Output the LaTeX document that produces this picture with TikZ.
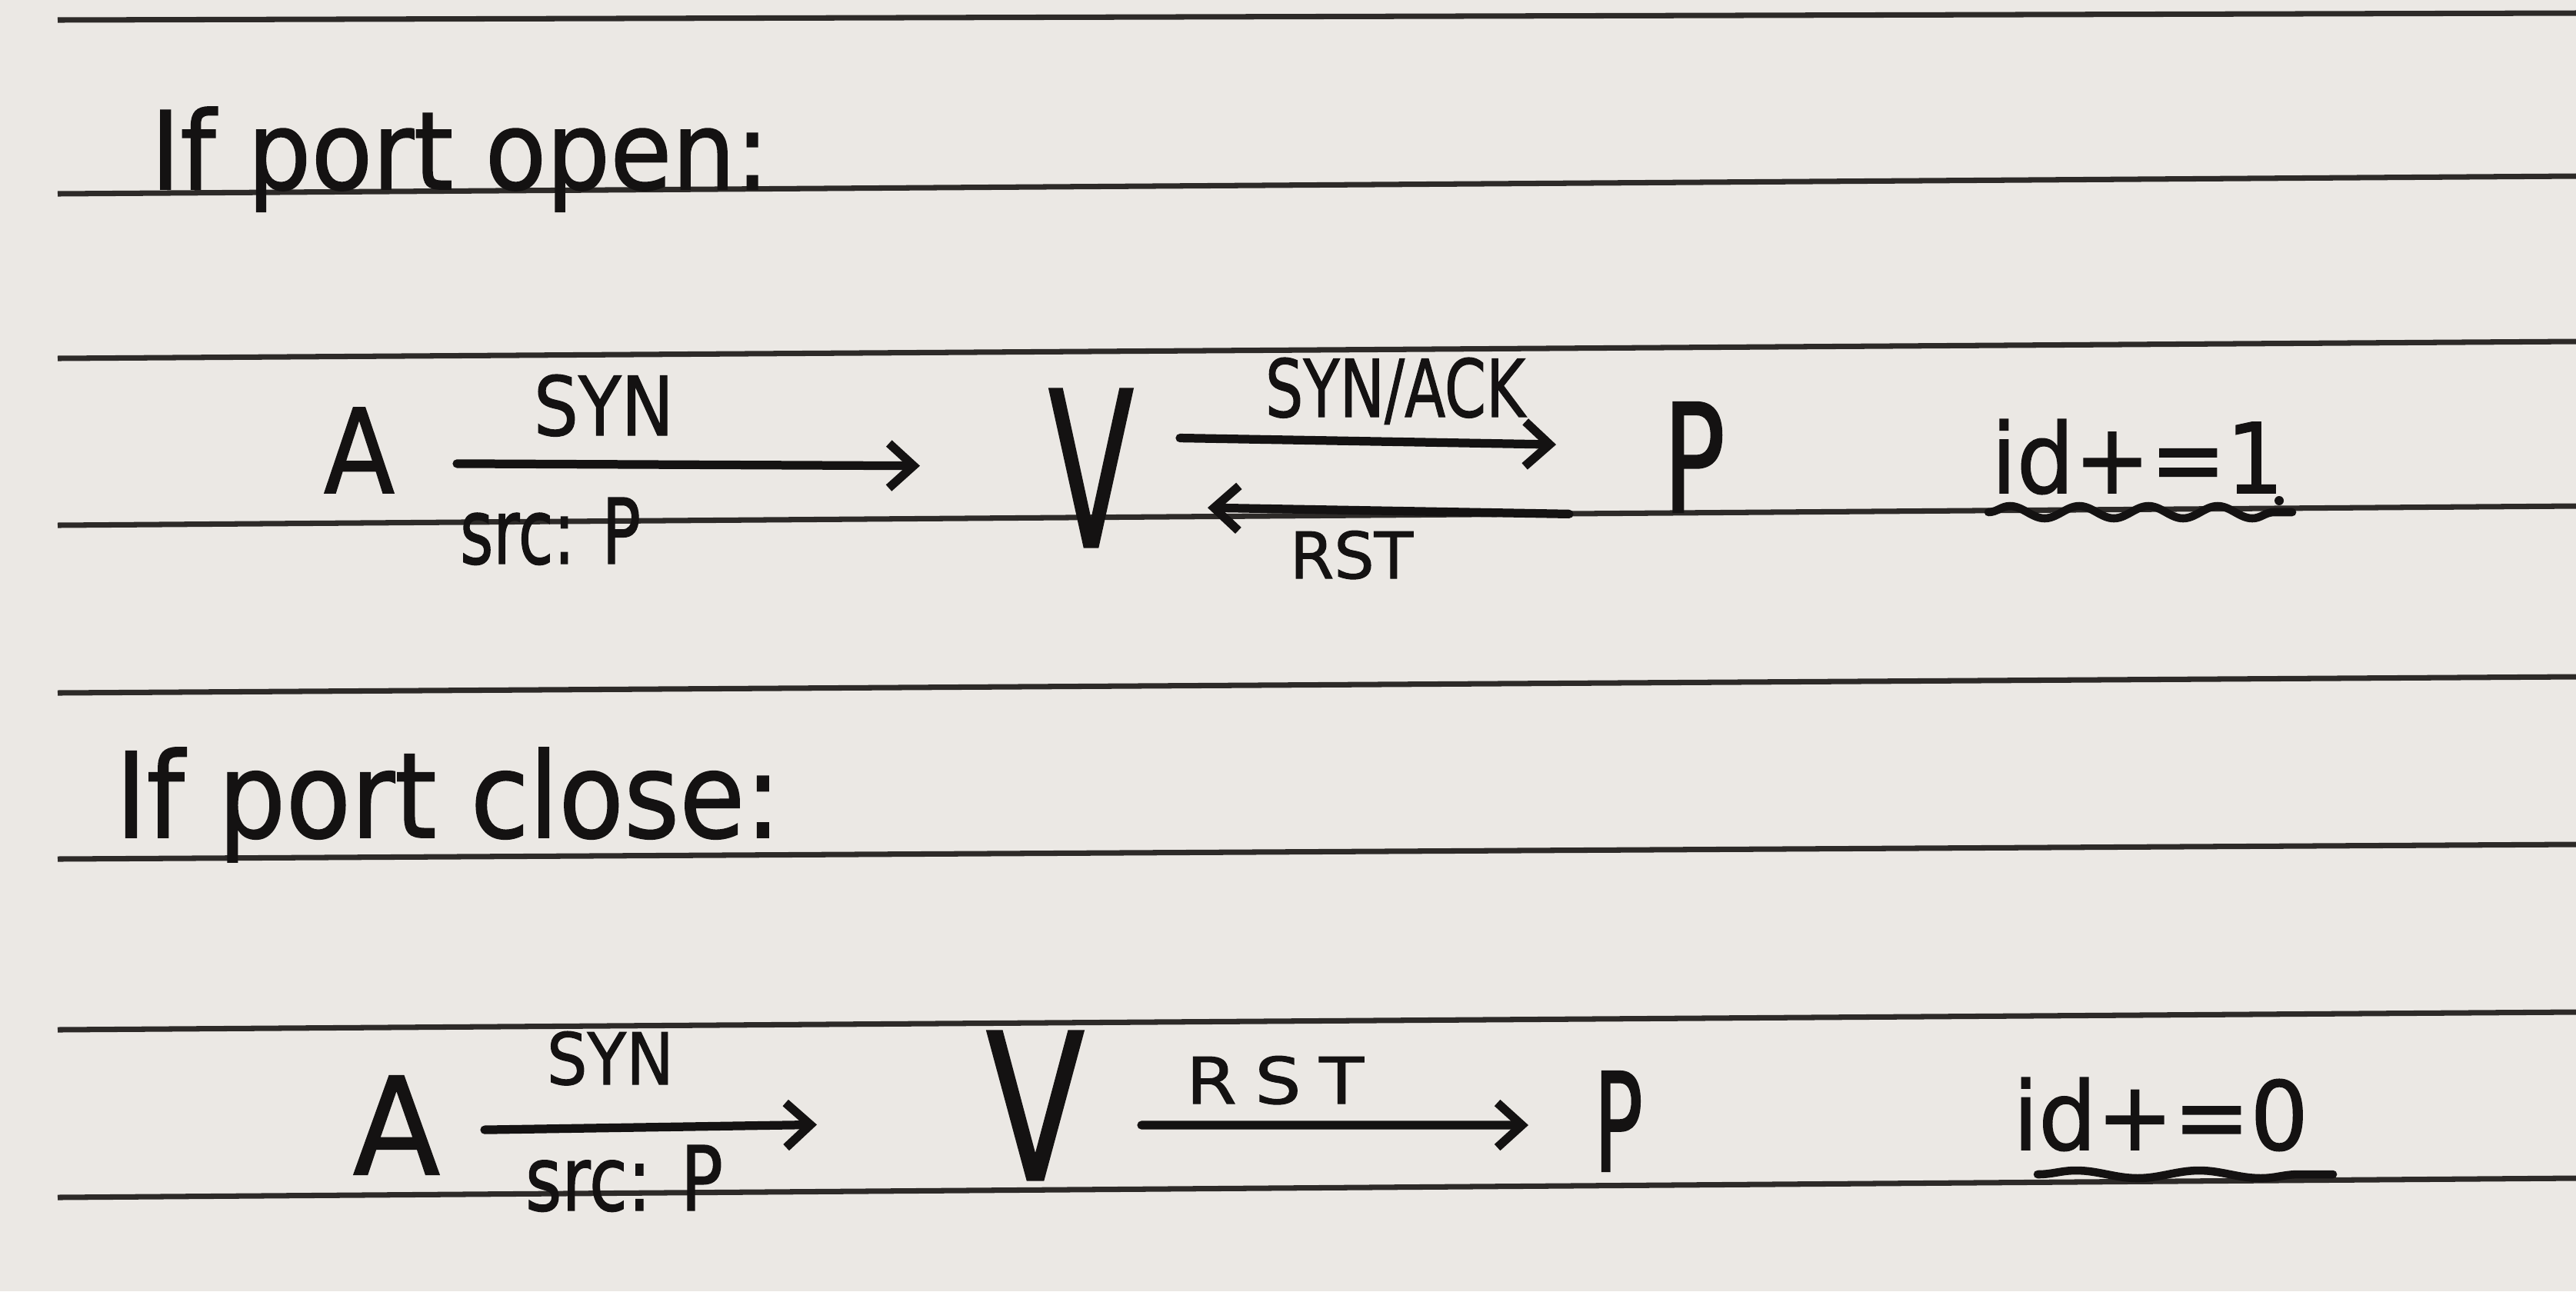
\documentclass[tikz,border=0pt]{standalone}
\usepackage{fontspec}
\setmainfont{DejaVu Sans}[FakeBold=1.2]
\usepackage{graphicx}
\usetikzlibrary{arrows.meta,decorations.pathmorphing}
\definecolor{paper}{RGB}{235,232,228}
\definecolor{ink}{RGB}{20,18,18}
\definecolor{rulecol}{RGB}{45,42,40}
\newcommand{\hw}[3]{\resizebox{#1cm}{#2cm}{#3}}
\begin{document}
\begin{tikzpicture}[x=1cm,y=-1cm,
  txt/.style={inner sep=0pt, outer sep=0pt, anchor=base west, text=ink},
  arr/.style={draw=ink, line width=3.2pt, line cap=round, -{Straight Barb[length=0.32cm,width=0.58cm]}},
  ruling/.style={draw=rulecol, line width=2pt},
  wavy/.style={draw=ink, line width=3pt, line cap=round, decorate}]
\fill[paper] (0,0) rectangle (33.49,16.79);
\useasboundingbox (0,0) rectangle (33.49,16.79);
% ruled lines
\foreach \a/\b in {0.26/0.17, 2.52/2.29, 4.66/4.44, 6.83/6.58, 9.01/8.80, 11.17/10.98, 13.39/13.16, 15.57/15.32}
  \draw[ruling] (0.75,\a) -- (33.49,\b);
% headings
\node[txt] (h1) at (1.96,2.46) {\hw{8.04}{1.07}{If port open:}};
\node[txt] (h2) at (1.50,10.89) {\hw{8.65}{1.17}{If port close:}};
% row 1
\node[txt] (A1) at (4.21,6.41) {\hw{0.92}{1.11}{A}};
\node[txt] (V1) at (13.63,7.11) {\hw{1.11}{2.05}{V}};
\node[txt] (P1) at (21.62,6.66) {\hw{0.81}{1.43}{P}};
\node[txt] (syn1) at (6.94,5.66) {\hw{1.82}{0.79}{SYN}};
\node[txt] (src1) at (5.98,7.33) {\hw{2.35}{0.86}{src: P}};
\node[txt] (synack) at (16.45,5.42) {\hw{3.38}{0.77}{SYN/ACK}};
\node[txt] (rst1) at (16.77,7.52) {\hw{1.60}{0.62}{RST}};
\node[txt] (id1) at (25.89,6.41) {\hw{3.80}{0.96}{id+=1}};
\draw[arr, shorten <=0.81cm, shorten >=1.67cm] ([yshift=-0.17cm]A1.east) -- ([yshift=0.02cm]V1.west);
\draw[arr, shorten <=0.60cm, shorten >=1.39cm] ([yshift=0.40cm]V1.east) -- ([yshift=0.14cm]P1.west);
\draw[arr, shorten <=1.22cm, shorten >=0.96cm] ([yshift=-0.76cm]P1.west) -- ([yshift=-0.50cm]V1.east);
\draw[wavy, decoration={snake, segment length=0.9cm, amplitude=0.08cm}]
  ([xshift=-0.04cm,yshift=-0.25cm]id1.base west) -- ([xshift=0.11cm,yshift=-0.25cm]id1.base east);
\fill[ink] ([xshift=-0.06cm,yshift=-0.10cm]id1.base east) circle (0.06cm);
% row 2
\node[txt] (A2) at (4.59,15.27) {\hw{1.13}{1.28}{A}};
\node[txt] (V2) at (12.82,15.34) {\hw{1.28}{1.93}{V}};
\node[txt] (P2) at (20.72,15.23) {\hw{0.64}{1.30}{P}};
\node[txt] (syn2) at (7.11,14.10) {\hw{1.65}{0.69}{SYN}};
\node[txt] (src2) at (6.83,15.74) {\hw{2.57}{0.85}{src: P}};
\node[txt] (rst2) at (15.42,14.35) {\hw{2.31}{0.62}{R\kern0.25em S\kern0.25em T}};
\node[txt] (id2) at (26.17,14.95) {\hw{3.84}{0.94}{id+=0}};
\draw[arr, shorten <=0.58cm, shorten >=2.20cm] ([yshift=-0.07cm]A2.east) -- ([yshift=-0.215cm]V2.west);
\draw[arr, shorten <=0.74cm, shorten >=0.85cm] ([yshift=-0.255cm]V2.east) -- ([yshift=-0.05cm]P2.west);
\draw[wavy, decoration={snake, segment length=1.6cm, amplitude=0.05cm}]
  ([xshift=0.32cm,yshift=-0.32cm]id2.base west) -- ([xshift=0.32cm,yshift=-0.32cm]id2.base east);
\end{tikzpicture}
\end{document}
